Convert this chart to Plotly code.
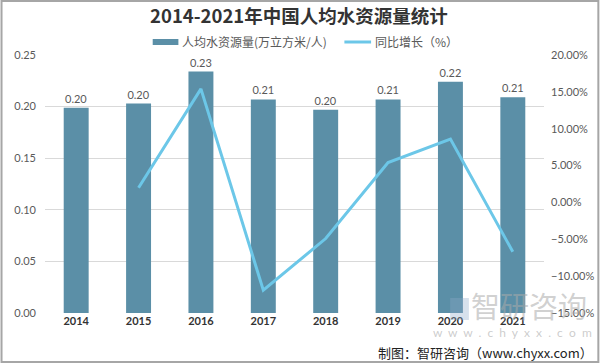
import plotly.graph_objects as go

years = ["2014", "2015", "2016", "2017", "2018", "2019", "2020", "2021"]
per_capita = [0.199, 0.203, 0.234, 0.207, 0.197, 0.207, 0.224, 0.209]
growth = [None, 0.020, 0.154, -0.119, -0.049, 0.054, 0.086, -0.067]

left_ticks = [0.00, 0.05, 0.10, 0.15, 0.20, 0.25]
right_ticks = [-0.15, -0.10, -0.05, 0.0, 0.05, 0.10, 0.15, 0.20]

BAR = "#5b8fa7"
LINE = "#6cc7e8"
GRAY = "#595959"
FONT = "Lato, Noto Sans CJK SC, sans-serif"
CJK = "Noto Sans CJK SC, sans-serif"

L, R, T, B = 45, 56, 55, 51
W, H = 606, 364
pw, ph = W - L - R, H - T - B

def px(x):
    return (x - L) / pw

def py(y):
    return (H - B - y) / ph

fig = go.Figure()
fig.add_trace(go.Bar(
    x=years, y=per_capita, name="人均水资源量(万立方米/人)",
    marker=dict(color=BAR, line=dict(width=0)), width=0.4,
    texttemplate="%{y:.2f}", textposition="outside",
    textfont=dict(size=11, color=GRAY, family=FONT), cliponaxis=False,
    showlegend=False,
))
fig.add_trace(go.Scatter(
    x=years, y=growth, name="同比增长（%）", yaxis="y2", mode="lines",
    line=dict(color=LINE, width=3), connectgaps=False, showlegend=False,
))

fig.update_layout(
    width=W, height=H,
    margin=dict(l=L, r=R, t=T, b=B, pad=0),
    paper_bgcolor="white", plot_bgcolor="white",
    font=dict(family=FONT, color=GRAY, size=11),
    title=dict(text="<b>2014-2021年中国人均水资源量统计</b>", x=px(302), xanchor="center",
               xref="paper", y=1 - 17 / H, yanchor="middle",
               font=dict(family=CJK, size=18.5, color="#333333")),
    showlegend=False,
    bargap=0.6,
    xaxis=dict(type="category", showline=False, ticks="", showgrid=False,
               tickfont=dict(size=11, color="#333333", weight="bold", family=FONT)),
    yaxis=dict(range=[0, 0.25], tickvals=left_ticks, tickformat=".2f", showgrid=True,
               gridcolor="#d9d9d9", gridwidth=1, zeroline=False, showline=False,
               ticks="", tickfont=dict(size=11, color=GRAY), ticklabelstandoff=8),
    yaxis2=dict(range=[-0.15, 0.20], tickvals=right_ticks, tickformat=".2%", overlaying="y",
                side="right", showgrid=False, zeroline=False, showline=False, ticks="",
                tickfont=dict(size=11, color=GRAY), ticklabelstandoff=6),
)

# custom legend (wide swatches like the reference)
fig.add_shape(type="rect", xref="paper", yref="paper", x0=px(154), x1=px(180),
              y0=py(45), y1=py(39), fillcolor=BAR, line=dict(width=0))
fig.add_annotation(text="人均水资源量(万立方米/人)", xref="paper", yref="paper",
                   x=px(182), y=py(42), xanchor="left", yanchor="middle", showarrow=False,
                   font=dict(family=CJK, size=12, color=GRAY))
fig.add_shape(type="line", xref="paper", yref="paper", x0=px(348), x1=px(375),
              y0=py(42), y1=py(42), line=dict(color=LINE, width=3))
fig.add_annotation(text="同比增长（%）", xref="paper", yref="paper",
                   x=px(377), y=py(42), xanchor="left", yanchor="middle", showarrow=False,
                   font=dict(family=CJK, size=12, color=GRAY))

# watermark
fig.add_annotation(text="智研咨询", xref="paper", yref="paper", x=px(535), y=py(305),
                   xanchor="center", yanchor="middle", showarrow=False,
                   font=dict(family=CJK, size=29, color="rgba(170,170,170,0.55)"))
fig.add_annotation(text="w  w  w  .  c  h  y  x  x  .  c  o  m", xref="paper", yref="paper",
                   x=px(518), y=py(332), xanchor="center", yanchor="middle", showarrow=False,
                   font=dict(family=FONT, size=12, color="rgba(170,170,170,0.6)"))
fig.add_shape(type="rect", xref="paper", yref="paper", x0=px(455), x1=px(474),
              y0=py(320), y1=py(298), fillcolor="rgba(140,170,200,0.35)", line=dict(width=0))
fig.add_annotation(text="制图：智研咨询（www.chyxx.com）", xref="paper", yref="paper",
                   x=px(602), y=py(352), xanchor="right", yanchor="middle", showarrow=False,
                   font=dict(family=CJK, size=13, color="#222222"))

# border
fig.add_shape(type="rect", xref="paper", yref="paper", x0=px(1), x1=px(605),
              y0=py(362), y1=py(1), line=dict(color="#a6a6a6", width=2), layer="below")

fig.write_html("out.html", config={"displayModeBar": False},
               post_script="document.body.style.margin='0';document.body.style.overflow='hidden';")
